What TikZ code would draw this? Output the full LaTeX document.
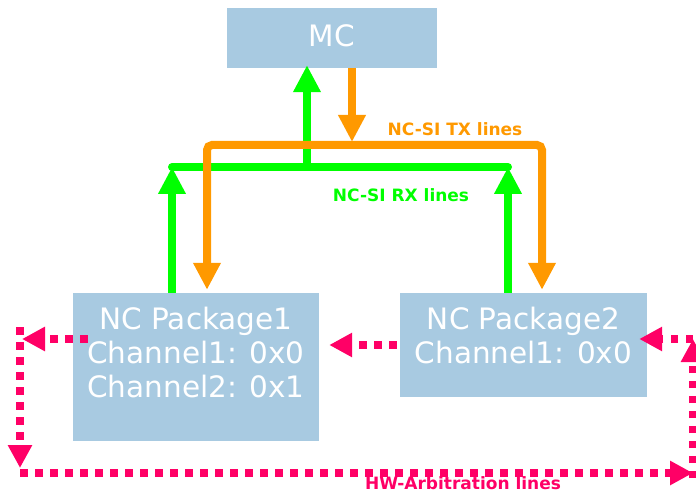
\documentclass[tikz,border=0pt]{standalone}
\usepackage{fontspec}
\setmainfont{DejaVu Sans}
\usetikzlibrary{arrows.meta}
\definecolor{boxblue}{RGB}{168,202,225}
\definecolor{rxgreen}{RGB}{0,255,0}
\definecolor{txorange}{RGB}{255,153,0}
\definecolor{hwpink}{RGB}{255,0,102}
\begin{document}
\begin{tikzpicture}[x=1pt,y=-1pt,
  pkg/.style={draw=none,fill=boxblue,inner sep=0pt},
  pkgtext/.style={text=white,align=center,font=\fontsize{29.5}{34}\selectfont,inner sep=0pt},
  rx/.style={draw=rxgreen,line width=8pt},
  tx/.style={draw=txorange,line width=8pt},
  bigtip/.style={-{Triangle[width=26pt,length=27pt]}},
  hw/.style={draw=hwpink,line width=7.5pt,dash pattern=on 7.5pt off 7.5pt,-{Triangle[width=23pt,length=23pt]}},
  lbl/.style={font=\bfseries\fontsize{17}{20}\selectfont,inner sep=0pt}]
\useasboundingbox (0,0) rectangle (696,494);
% boxes
\node[pkg,minimum width=210pt,minimum height=60pt] (mc) at (332,38) {};
\node[pkgtext] (mct) at (332,36) {MC};
\node[pkg,minimum width=246pt,minimum height=148pt] (b1) at (196,367) {};
\node[pkgtext] (b1t) at (196,353) {NC Package1\\Channel1: 0x0\\Channel2: 0x1};
\node[pkg,minimum width=247pt,minimum height=104pt] (b2) at (523.5,345) {};
\node[pkgtext] (b2t) at (523.5,336) {NC Package2\\Channel1: 0x0};
% bus coordinates
\coordinate (rxL) at (172,167);
\coordinate (rxR) at (508,167);
\coordinate (rxM) at (307,167);
\coordinate (txL) at (207,145);
\coordinate (txR) at (542,145);
\coordinate (txM) at (352,145);
% RX lines
\draw[rx,line cap=round] (rxL) -- (rxR);
\draw[rx,bigtip,shorten >=-3pt] (rxM) -- (rxM |- mc.south);
\draw[rx,bigtip] (rxL |- b1.north) -- (rxL);
\draw[rx,bigtip] (rxR |- b2.north) -- (rxR);
% TX lines
\draw[tx,bigtip,shorten >=3pt] (txM |- mc.south) -- (txM);
\draw[tx,rounded corners=5pt,{Triangle[width=26pt,length=27pt]}-{Triangle[width=26pt,length=27pt]},shorten <=3pt,shorten >=3pt]
  (txL |- b1.north) -- (txL) -- (txR) -- (txR |- b2.north);
% HW arbitration lines
\coordinate (hl) at (20,339);
\coordinate (hb) at (20,473);
\coordinate (hbr) at (693,473);
\coordinate (hr) at (693,339);
\coordinate (hm) at (0,345);
\draw[hw,shorten <=-15pt] (b1.west |- hl) -- ([xshift=2pt]hl);
\draw[hw,shorten <=-12pt,shorten >=5pt] (hl) -- (hb);
\draw[hw] (hb) -- (hbr);
\draw[hw,shorten <=-5pt] (hbr) -- (hr);
\draw[hw,shorten >=-8pt] (hr) -- (hr -| b2.east);
\draw[hw,shorten <=3pt,shorten >=10pt] (b2.west |- hm) -- (b1.east |- hm);
% labels
\node[lbl,text=txorange] (txlbl) at (455,129) {NC-SI TX lines};
\node[lbl,text=rxgreen] (rxlbl) at (401,195) {NC-SI RX lines};
\node[lbl,text=hwpink] (hwlbl) at (463,483) {HW-Arbitration lines};
\end{tikzpicture}
\end{document}
